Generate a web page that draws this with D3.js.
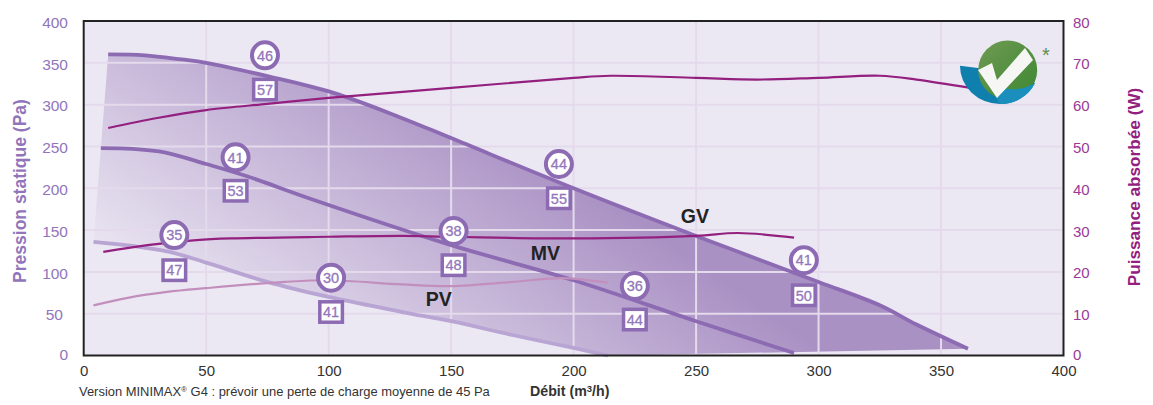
<!DOCTYPE html>
<html><head><meta charset="utf-8">
<script src="https://cdn.jsdelivr.net/npm/d3@7"></script>
<style>html,body{margin:0;padding:0;background:#fff}svg{display:block}text{font-family:"Liberation Sans",Arial,sans-serif}</style>
</head><body><svg id="c" width="1153" height="405"></svg>
<script>
const xTicks=[0,50,100,150,200,250,300,350,400];
const yTicks=[0,50,100,150,200,250,300,350,400];
const wTicks=[0,10,20,30,40,50,60,70,80];
const gvPressure=[[10,360],[25,359],[40,354],[50,350],[75,334],[102,314],[129,285],[150,260],[200,200],[250,143],[300,88],[325,60],[340,37],[361,8]];
const mvPressure=[[7,248],[20,247],[33,243],[50,229],[67,214],[94,186],[150,132],[200,90],[250,41],[290,3]];
const pvPressure=[[4,136],[20,131],[35,124],[50,111],[75,88],[100,70],[130,52],[150,41],[175,24.5],[200,9],[214,0]];
const gvPower=[[10,54.4],[30,56.8],[50,58.7],[75,60.2],[100,61.6],[150,64],[200,66.4],[215,66.9],[250,66.4],[275,66],[300,66.4],[325,66.9],[340,66],[362,64]];
const mvPower=[[8,24.8],[26,26.4],[46,27.6],[60,28],[100,28.4],[130,28.6],[150,28.4],[200,28],[250,28.6],[267,29.3],[290,28.2]];
const pvPower=[[4,12],[18,13.8],[34,15.2],[50,16.1],[82,17.6],[100,18],[130,17],[150,16.6],[175,17.6],[195,18.5],[214,17.4]];
const circleLabels=[[74,359,"46"],[62,237,"41"],[194,229,"44"],[294,114,"41"],[37,144,"35"],[151,149,"38"],[101,93,"30"],[225,83,"36"]];
const squareLabels=[[74,318,"57"],[62,197,"53"],[194,188,"55"],[294,72,"50"],[37,102,"47"],[151,108,"48"],[101,52,"41"],[225,43,"44"]];
const curveLabels=[[249.5,167,"GV"],[188.5,123,"MV"],[145,68,"PV"]];

const purple="#8c6bb3", magenta="#93207f";
const svg=d3.select("#c");
const x=d3.scaleLinear().domain([0,400]).range([83.7,1063.5]);
const y=d3.scaleLinear().domain([0,400]).range([355.5,21]);
const w=d3.scaleLinear().domain([0,80]).range([355.5,21]);
const line=(ys)=>d3.line().x(d=>x(d[0])).y(d=>ys(d[1])).curve(d3.curveCatmullRom.alpha(.5));

const defs=svg.append("defs");
const g=defs.append("linearGradient").attr("id","fill").attr("gradientUnits","userSpaceOnUse")
 .attr("x1",200).attr("y1",340).attr("x2",404).attr("y2",53);
g.append("stop").attr("offset",0).attr("stop-color","#ece8f3");
g.append("stop").attr("offset",1).attr("stop-color","#aa91c4");

svg.append("rect").attr("x",x(0)).attr("y",y(400)).attr("width",x(400)-x(0)).attr("height",y(0)-y(400)).attr("fill","#ece8f3");
const topPath=line(y)(gvPressure);
const botPath=line(y)(pvPressure.slice().reverse());
svg.append("path").attr("d",topPath+"L"+botPath.slice(1)+"Z").attr("fill","url(#fill)");

const grid=svg.append("g").attr("stroke","#e4daec").attr("stroke-width",2);
grid.selectAll("line.v").data(xTicks.slice(1,-1)).join("line").attr("class","v")
 .attr("x1",d=>x(d)).attr("x2",d=>x(d)).attr("y1",y(400)).attr("y2",y(0));
grid.selectAll("line.h").data(yTicks.slice(1,-1)).join("line").attr("class","h")
 .attr("x1",x(0)).attr("x2",x(400)).attr("y1",d=>y(d)).attr("y2",d=>y(d));

[[gvPressure,purple,3.8,y],[mvPressure,purple,3.8,y],[pvPressure,"#b9a5d3",3.8,y],
 [gvPower,magenta,2.2,w],[mvPower,magenta,2.2,w],[pvPower,"#c28fbd",2.2,w]].forEach(([d,c,sw,s])=>{
  svg.append("path").attr("d",line(s)(d)).attr("fill","none").attr("stroke",c).attr("stroke-width",sw);
});

svg.append("rect").attr("x",x(0)).attr("y",y(400)).attr("width",x(400)-x(0)).attr("height",y(0)-y(400))
 .attr("fill","none").attr("stroke","#222").attr("stroke-width",2);

// axes
function styleAxis(sel,color,size){
  sel.select(".domain").remove();
  sel.selectAll(".tick line").remove();
  sel.selectAll("text").attr("fill",color).style("font-size",size+"px").style("font-family",'"Liberation Sans",Arial,sans-serif');
}
svg.append("g").attr("transform","translate(0,360)").call(d3.axisBottom(x).tickValues(xTicks).tickSize(0).tickPadding(2))
 .call(s=>styleAxis(s,"#333",15)).selectAll("text").attr("dy","0.96em");
svg.append("g").attr("transform","translate(83,0)").call(d3.axisLeft(y).tickValues(yTicks).tickSize(0).tickPadding(15))
 .call(s=>styleAxis(s,"#9175bb",15.5)).selectAll("text").attr("dy","0.4em").attr("dx",d=>d===50?-5:0).attr("y",d=>d===0?-2:0);
svg.append("g").attr("transform","translate(1063,0)").call(d3.axisRight(w).tickValues(wTicks).tickSize(0).tickPadding(10))
 .call(s=>styleAxis(s,"#9a3a96",15)).selectAll("text").attr("dy","0.4em").attr("y",d=>d===0?-2:0);

svg.append("text").attr("transform","translate(26,191) rotate(-90)").attr("text-anchor","middle")
 .attr("font-weight","bold").attr("font-size",17.5).attr("fill","#9175bb").text("Pression statique (Pa)");
svg.append("text").attr("transform","translate(1140,187) rotate(-90)").attr("text-anchor","middle")
 .attr("font-weight","bold").attr("font-size",17.2).attr("fill","#93207f").text("Puissance absorbée (W)");

const note=svg.append("text").attr("x",79).attr("y",396).attr("font-size",12.95).attr("fill","#333");
note.append("tspan").text("Version MINIMAX");
note.append("tspan").attr("font-size",8).attr("dy",-4).text("®");
note.append("tspan").attr("dy",4).text(" G4 : prévoir une perte de charge moyenne de 45 Pa");
const deb=svg.append("text").attr("x",530).attr("y",396).attr("font-size",14.2).attr("font-weight","bold").attr("fill","#333");
deb.append("tspan").text("Débit (m");
deb.append("tspan").attr("font-size",9.5).attr("dy",-4).text("3");
deb.append("tspan").attr("dy",4).text("/h)");

// curve names
svg.selectAll("text.cn").data(curveLabels).join("text").attr("class","cn")
 .attr("x",d=>x(d[0])).attr("y",d=>y(d[1])).attr("text-anchor","middle").attr("dy","0.36em")
 .attr("font-weight","bold").attr("font-size",19.5).attr("fill","#222").text(d=>d[2]);

// circle labels
const cg=svg.selectAll("g.cl").data(circleLabels).join("g").attr("class","cl")
 .attr("transform",d=>`translate(${x(d[0])},${y(d[1])})`);
cg.append("circle").attr("r",13).attr("fill","#fff").attr("stroke",purple).attr("stroke-width",4);
cg.append("text").attr("text-anchor","middle").attr("dy","0.36em").attr("font-size",14.5).attr("fill","#9377bb").attr("stroke","#9377bb").attr("stroke-width",.3).text(d=>d[2]);
// square labels
const sg=svg.selectAll("g.sl").data(squareLabels).join("g").attr("class","sl")
 .attr("transform",d=>`translate(${x(d[0])},${y(d[1])})`);
sg.append("rect").attr("x",-11.3).attr("y",-10.2).attr("width",22.6).attr("height",20.4).attr("fill","#fff").attr("stroke",purple).attr("stroke-width",3.5);
sg.append("text").attr("text-anchor","middle").attr("dy","0.36em").attr("font-size",14.5).attr("fill","#9377bb").attr("stroke","#9377bb").attr("stroke-width",.3).text(d=>d[2]);

// logo
const lg=defs.append("linearGradient").attr("id","gr").attr("x1",0).attr("y1",0).attr("x2",1).attr("y2",1);
lg.append("stop").attr("offset",0).attr("stop-color","#6f9a52");
lg.append("stop").attr("offset",1).attr("stop-color","#3d8731");
const logo=svg.append("g");
logo.append("path").attr("d","M960,65.7 A40,38 0 0 0 1000,104 A38,38 0 0 0 1035,83 L978,68 Z").attr("fill","#0f7fae");
logo.append("circle").attr("cx",1007.7).attr("cy",70).attr("r",29.5).attr("fill","url(#gr)");
logo.append("path").attr("d","M1000,104 A38,38 0 0 0 1035,83 Q1020,92 1003,88 L996,98 Z").attr("fill","#1a8fbe");
logo.append("path").attr("d","M978,70 L992,63 L997,80 L1025,48 L1033,60 L997,98 Z").attr("fill","#f6f7f4");
svg.append("text").attr("x",1046).attr("y",62).attr("text-anchor","middle").attr("font-size",20).attr("fill","#5c8f4a").text("*");
</script></body></html>
